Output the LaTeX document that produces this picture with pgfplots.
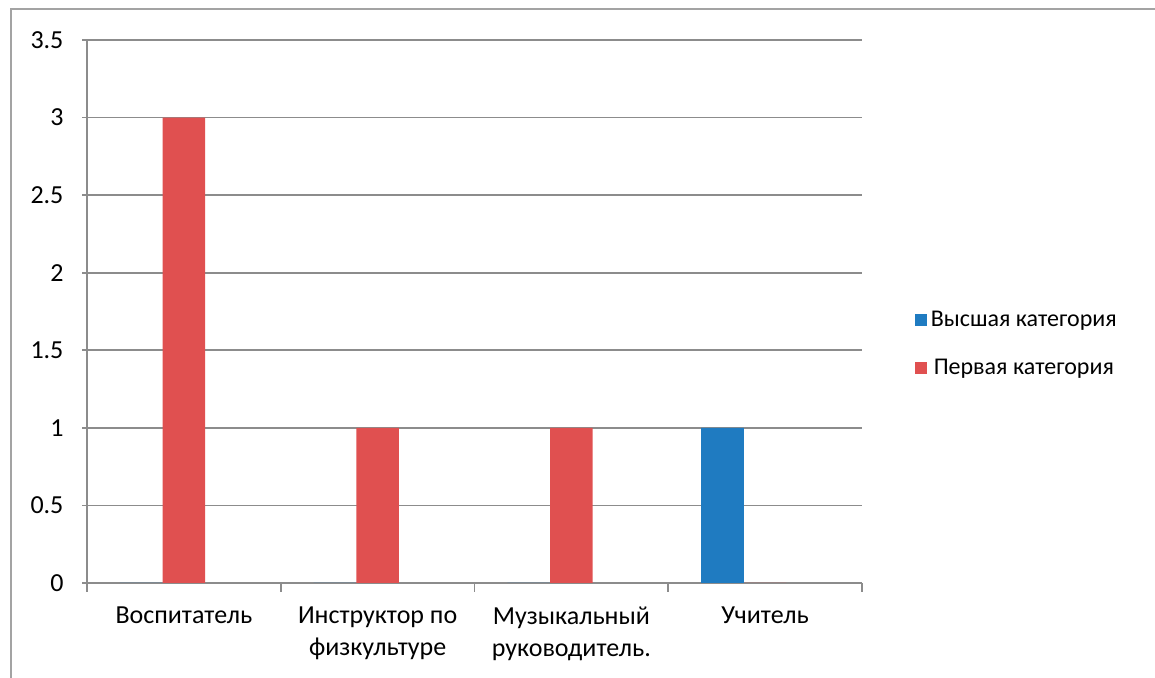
\documentclass[border=0pt]{standalone}
\usepackage{pgfplots}
\pgfplotsset{compat=1.18}
\usepackage{fontspec}
\setmainfont{Carlito}
\definecolor{vysh}{RGB}{31,123,193}
\definecolor{perv}{RGB}{224,80,80}
\definecolor{gridc}{RGB}{140,140,140}
\begin{document}
\begin{tikzpicture}[font=\fontsize{13}{16}\selectfont]
\path[use as bounding box] (0,0) rectangle (577.5pt,339pt);
\draw[color=gridc!80, line width=1pt] (5.5pt,0) -- (5.5pt,334.5pt) -- (577.5pt,334.5pt);
\begin{axis}[
    at={(43.5pt,47.5pt)}, anchor=south west,
    scale only axis,
    width=387.5pt, height=271.5pt,
    xmin=-0.5, xmax=3.5,
    ymin=0, ymax=3.5,
    ytick={0,0.5,...,3.5},
    yticklabels={0,0.5,1,1.5,2,2.5,3,3.5},
    xtick={0,1,2,3},
    xticklabels={Воспитатель,Инструктор по\\физкультуре,Музыкальный\\руководитель.,Учитель},
    x tick label style={align=center, yshift=-4pt},
    minor xtick={-0.5,0.5,1.5,2.5,3.5},
    major x tick style={draw=none},
    tick align=outside,
    major tick length=4.5pt,
    minor tick length=4.5pt,
    tick style={color=gridc, line width=0.8pt},
    axis x line=bottom, axis y line=left,
    axis line style={-, color=gridc, line width=0.8pt},
    ymajorgrids=true,
    grid style={color=gridc, line width=0.8pt},
    y tick label style={xshift=-6pt},
    ybar, bar width=0.22,
    legend style={draw=none, at={(1.06,0.44)}, anchor=west,
        row sep=11pt, font=\fontsize{12}{14}\selectfont},
    legend image code/.code={\fill[#1] (-1.5pt,-3pt) rectangle (4.5pt,3pt);},
    /pgf/number format/assume math mode=true,
]
\addplot[fill=vysh, draw=none, bar shift=-0.22] coordinates {(0,0) (1,0) (2,0) (3,1)};
\addplot[fill=perv, draw=none, bar shift=0] coordinates {(0,3) (1,1) (2,1) (3,0)};
\legend{Высшая категория, Первая категория}
\end{axis}
\end{tikzpicture}
\end{document}
